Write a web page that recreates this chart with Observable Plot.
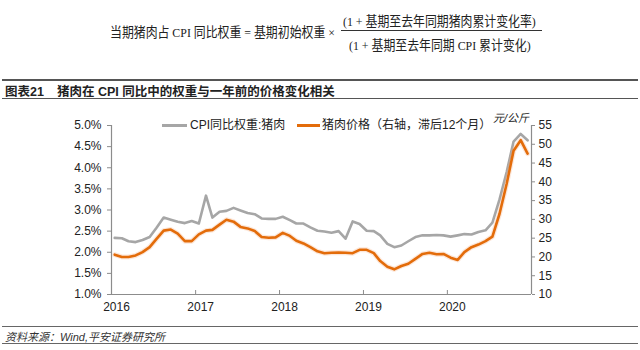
<!DOCTYPE html>
<html>
<head>
<meta charset="utf-8">
<script src="https://cdn.jsdelivr.net/npm/d3@7"></script>
<script src="https://cdn.jsdelivr.net/npm/@observablehq/plot@0.6"></script>
<style>
  html, body { margin: 0; padding: 0; background: #fff; }
  #page { position: relative; width: 640px; height: 350px; overflow: hidden; font-family: "Liberation Sans", Arial, "Noto Sans CJK SC", sans-serif; color: #222; }
  .abs { position: absolute; white-space: nowrap; }
  .formula { font-family: "Liberation Serif", "Noto Sans CJK SC", serif; font-size: 13.5px; color: #222; transform: scaleX(0.88); transform-origin: 0 0; }
  .hr { position: absolute; left: 2px; width: 636px; }
  #chart { position: absolute; left: 0; top: 105px; }
  .lg { position: absolute; font-size: 12px; color: #222; line-height: 14px; }
  .sw { position: absolute; height: 3px; }
</style>
</head>
<body>
<div id="page">
  <div class="abs formula" style="left:110px; top:21px;">当期猪肉占 CPI 同比权重 = 基期初始权重 ×</div>
  <div class="abs formula" style="left:343px; top:10px;">(1 + 基期至去年同期猪肉累计变化率)</div>
  <div class="abs" style="left:341px; top:30px; width:201px; height:1px; background:#333;"></div>
  <div class="abs formula" style="left:349px; top:34px;">(1 + 基期至去年同期 CPI 累计变化)</div>

  <div class="hr" style="top:79px; height:2px; background:#555;"></div>
  <div class="abs" style="left:5px; top:81px; font-size:12.5px; font-weight:bold; font-family:'Liberation Sans','Noto Sans CJK SC',sans-serif;">图表21</div>
  <div class="abs" style="left:57px; top:81px; font-size:12.5px; font-weight:bold; font-family:'Liberation Sans','Noto Sans CJK SC',sans-serif;">猪肉在 CPI 同比中的权重与一年前的价格变化相关</div>
  <div class="hr" style="top:98px; height:1px; background:#555;"></div>

  <div id="chart"></div>

  <div class="sw" style="left:162px; top:124px; width:25px; background:#a6a6a6;"></div>
  <div class="lg" style="left:190px; top:118px;">CPI同比权重:猪肉</div>
  <div class="sw" style="left:297px; top:124px; width:23px; background:#e36c0a;"></div>
  <div class="lg" style="left:480px; width:49px; text-align:right; top:111px; font-size:11px; font-style:italic;">元/公斤</div>
  <div class="lg" style="left:322px; top:118px;">猪肉价格（右轴，滞后12个月）</div>

  <div class="hr" style="top:326px; height:1px; background:#666;"></div>
  <div class="abs" style="left:5px; top:328px; font-size:11px; font-style:italic; color:#333;">资料来源：Wind,平安证券研究所</div>
  <div class="hr" style="top:343px; height:1px; background:#666;"></div>
</div>
<script>
// x categories: months Jan 2016 .. Dec 2020
const months = d3.utcMonth.range(new Date(Date.UTC(2016, 0, 1)), new Date(Date.UTC(2021, 0, 1)));
const yearTicks = [2016, 2017, 2018, 2019, 2020];

// CPI 同比权重:猪肉 (%), left axis
const cpiWeight = [
  2.34, 2.33, 2.26, 2.24, 2.29, 2.36, 2.58, 2.82, 2.77, 2.72, 2.69, 2.74,
  2.68, 3.34, 2.82, 2.96, 2.98, 3.05, 2.99, 2.93, 2.90, 2.80, 2.79, 2.79,
  2.84, 2.76, 2.68, 2.68, 2.59, 2.51, 2.49, 2.46, 2.50, 2.32, 2.73, 2.67,
  2.51, 2.50, 2.40, 2.20, 2.12, 2.16, 2.26, 2.36, 2.40, 2.40, 2.41, 2.40,
  2.37, 2.40, 2.43, 2.42, 2.48, 2.52, 2.70, 3.25, 3.90, 4.62, 4.80, 4.65
];

// 猪肉价格 (元/公斤, right axis, lagged 12 months)
const porkPrice = [
  20.6, 20.0, 20.0, 20.4, 21.3, 22.6, 24.8, 27.0, 27.3, 26.2, 24.2, 24.2,
  26.0, 27.0, 27.2, 28.6, 29.9, 29.4, 28.0, 27.6, 26.9, 25.3, 25.1, 25.2,
  26.4, 25.6, 24.3, 23.6, 22.6, 21.5, 21.0, 21.1, 21.2, 21.1, 21.0, 21.9,
  21.9, 21.0, 18.9, 17.4, 16.7, 17.6, 18.2, 19.5, 20.8, 21.1, 20.7, 20.8,
  19.8, 19.2, 21.3, 22.6, 23.3, 24.2, 25.4, 31.5, 39.5, 48.3, 51.1, 47.5
];

const leftTicks = [1.0, 1.5, 2.0, 2.5, 3.0, 3.5, 4.0, 4.5, 5.0];
const rightTicks = [10, 15, 20, 25, 30, 35, 40, 45, 50, 55];

// right axis [10,55] mapped onto left axis [1,5]
const leftDomain = [1, 5];
const rightDomain = [10, 55];
const toLeft = p => leftDomain[0] + (p - rightDomain[0]) * (leftDomain[1] - leftDomain[0]) / (rightDomain[1] - rightDomain[0]);
const toRight = w => rightDomain[0] + (w - leftDomain[0]) * (rightDomain[1] - rightDomain[0]) / (leftDomain[1] - leftDomain[0]);

const data = months.map((m, i) => ({
  date: d3.utcDay.offset(m, 14),
  cpi: cpiWeight[i],
  pork: toLeft(porkPrice[i])
}));
const years = yearTicks.map(y => new Date(Date.UTC(y, 0, 1)));
const xStart = new Date(Date.UTC(2016, 0, 1));
const xEnd = new Date(Date.UTC(2021, 0, 1));

const axisColor = "#8c8c8c";
const chart = Plot.plot({
  width: 640,
  height: 215,
  marginTop: 20,
  marginBottom: 26,
  marginLeft: 111,
  marginRight: 109,
  style: { fontFamily: "'Liberation Sans', Arial, sans-serif", fontSize: "12px", color: "#222", background: "transparent" },
  x: { type: "utc", domain: [xStart, xEnd] },
  y: { domain: leftDomain },
  marks: [
    Plot.ruleY([leftDomain[0]], { stroke: axisColor, strokeWidth: 1.2 }),
    Plot.ruleX([xStart], { stroke: axisColor, strokeWidth: 1.2 }),
    Plot.ruleX([xEnd], { stroke: axisColor, strokeWidth: 1.2 }),
    Plot.tickX(years, { x: d => d, stroke: axisColor, insetTop: 165 }),
    Plot.axisX({ ticks: years, tickFormat: d3.utcFormat("%Y"), tickSize: 0, tickPadding: 8, dx: 5, fontSize: 12, label: null }),
    Plot.axisY({ anchor: "left", ticks: leftTicks, tickFormat: d => d.toFixed(1) + "%", tickSize: 4, tickPadding: 6, stroke: axisColor, fontSize: 12, label: null }),
    Plot.axisY({ anchor: "right", ticks: rightTicks.map(toLeft), tickFormat: d => String(Math.round(toRight(d))), tickSize: 3, tickPadding: 4, stroke: axisColor, fontSize: 12, label: null }),
    Plot.line(data, { x: "date", y: "cpi", stroke: "#a6a6a6", strokeWidth: 2.6 }),
    Plot.line(data, { x: "date", y: "pork", stroke: "#f4b183", strokeWidth: 5, strokeOpacity: 0.3 }),
    Plot.line(data, { x: "date", y: "pork", stroke: "#e36c0a", strokeWidth: 2.6 })
  ]
});
document.getElementById("chart").appendChild(chart);
</script>
</body>
</html>
